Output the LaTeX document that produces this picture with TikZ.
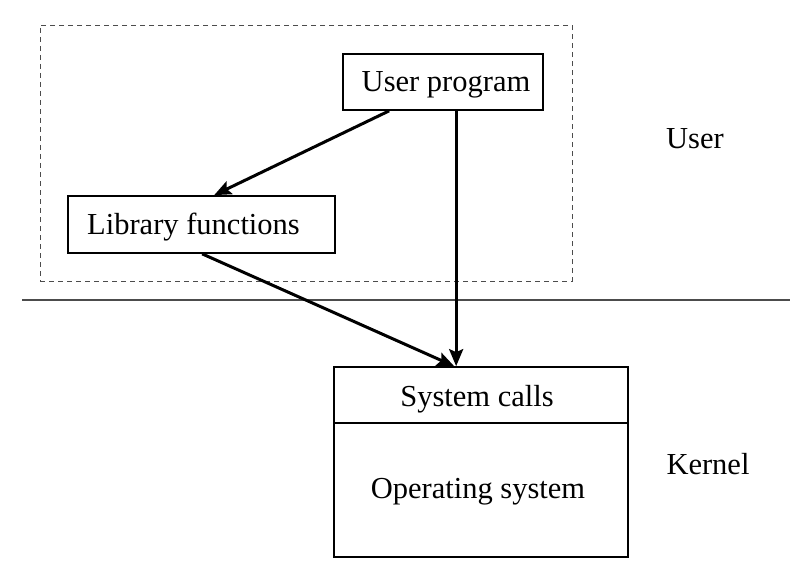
\documentclass[tikz,border=0pt]{standalone}
\usepackage{fontspec}
\setmainfont{Liberation Serif}
\usetikzlibrary{arrows.meta,calc}
\begin{document}
\begin{tikzpicture}[x=1pt,y=-1pt,
  box/.style={draw,line width=1.7pt,inner sep=0pt},
  lbl/.style={inner sep=0pt,font=\fontsize{30.5}{36}\selectfont},
  conn/.style={line width=3pt,-{Stealth[length=17pt,width=14pt,inset=3pt]}}]
\useasboundingbox (0,0) rectangle (810,578);
\node[draw=black!70,dash pattern=on 5pt off 4pt,line width=0.9pt,minimum width=532pt,minimum height=256pt,inner sep=0pt] (grp) at (306,153) {};
\node[box,minimum width=200pt,minimum height=56pt] (up) at (443,82) {};
\node[box,minimum width=267pt,minimum height=57pt] (lib) at (201.5,224.5) {};
\node[box,minimum width=294pt,minimum height=56pt] (sc) at (481,395) {};
\node[box,minimum width=294pt,minimum height=134pt] (os) at (481,490) {};
\node[lbl] (upt) at ([xshift=3pt,yshift=-3pt]up.center) {User program};
\node[lbl] (libt) at ([xshift=-8pt,yshift=-3pt]lib.center) {Library functions};
\node[lbl] (sct) at ([xshift=-4pt,yshift=-4pt]sc.center) {System calls};
\node[lbl] (ost) at ([xshift=-3pt,yshift=-2pt]os.center) {Operating system};
\coordinate (l) at (22,300);
\coordinate (r) at (790,300);
\draw[black!70,line width=1.1pt] (l) -- (r);
\node[lbl] (user) at (695,139) {User};
\node[lbl] (kern) at (708,464) {Kernel};
\draw[conn] ([xshift=47pt]up.south west) -- ([xshift=147pt]lib.north west);
\draw[conn] ([xshift=114pt]up.south west) -- ([xshift=123pt]sc.north west);
\draw[conn] ([xshift=135pt]lib.south west) -- ([xshift=121pt]sc.north west);
\end{tikzpicture}
\end{document}
